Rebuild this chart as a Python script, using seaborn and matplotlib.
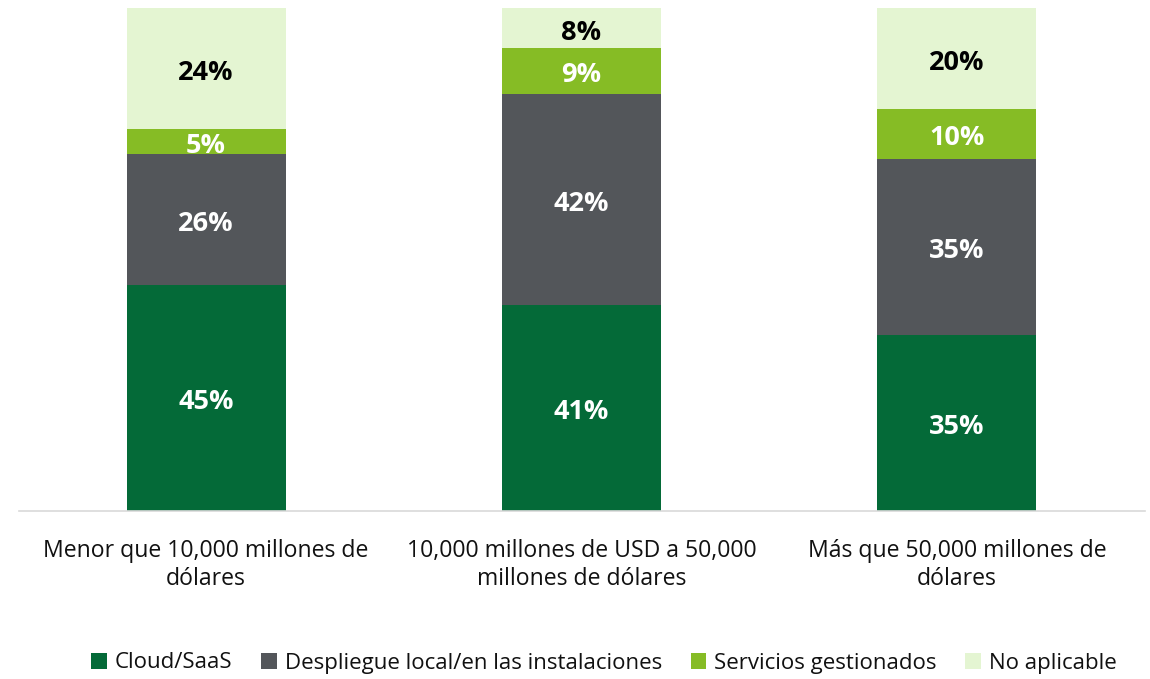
import matplotlib
matplotlib.use("Agg")
import matplotlib.pyplot as plt
import seaborn as sns
import pandas as pd
import numpy as np
from matplotlib.patches import Patch

categories = ["Menor que 10,000 millones de\ndólares",
              "10,000 millones de USD a 50,000\nmillones de dólares",
              "Más que 50,000 millones de\ndólares"]
series = ["Cloud/SaaS", "Despliegue local/en las instalaciones",
          "Servicios gestionados", "No aplicable"]
cloud = [45, 41, 35]
local = [26, 42, 35]
gestion = [5, 9, 10]
no_aplic = [24, 8, 20]
colors = ["#046A38", "#53565A", "#86BC25", "#E4F5D2"]
label_colors = ["white", "white", "white", "black"]

sns.set_theme(style="white")
plt.rcParams["font.family"] = ["Open Sans", "DejaVu Sans"]

values = [cloud, local, gestion, no_aplic]
cum = np.cumsum(np.array(values), axis=0)

fig = plt.figure(figsize=(11.5, 6.79), dpi=100)
ax = fig.add_axes([18.5 / 1150, 168 / 679, 1126 / 1150, 503 / 679])

for i in range(len(series) - 1, -1, -1):
    df = pd.DataFrame({"cat": categories, "val": cum[i]})
    sns.barplot(data=df, x="cat", y="val", color=colors[i], width=0.424,
                saturation=1, ax=ax, linewidth=0)

for i in range(len(series)):
    for j in range(len(categories)):
        mid = cum[i][j] - values[i][j] / 2
        ax.annotate(f"{values[i][j]}%", xy=(j, mid), xytext=(0, -3.2),
                    textcoords="offset points", ha="center", va="center",
                    color=label_colors[i], fontsize=19.5, fontweight="bold")

ax.set_xlim(-0.5, 2.5)
ax.set_ylim(0, 100)
ax.set_xlabel("")
ax.set_ylabel("")
ax.set_yticks([])
ax.tick_params(axis="x", length=0, pad=20, labelsize=16.6, colors="#111111")
for lbl in ax.get_xticklabels():
    lbl.set_linespacing(1.25)
for s in ["top", "left", "right"]:
    ax.spines[s].set_visible(False)
ax.spines["bottom"].set_color("#D9D9D9")
ax.spines["bottom"].set_linewidth(1.2)

handles = [Patch(facecolor=c, edgecolor="none") for c in colors]
fig.legend(handles, series, loc="center", bbox_to_anchor=(604 / 1150, 1 - 663 / 679),
           ncol=4, frameon=False, fontsize=16, handlelength=0.7, handleheight=0.7,
           handletextpad=0.35, columnspacing=1.3, labelcolor="#111111")

fig.savefig("out.png", dpi=100)
